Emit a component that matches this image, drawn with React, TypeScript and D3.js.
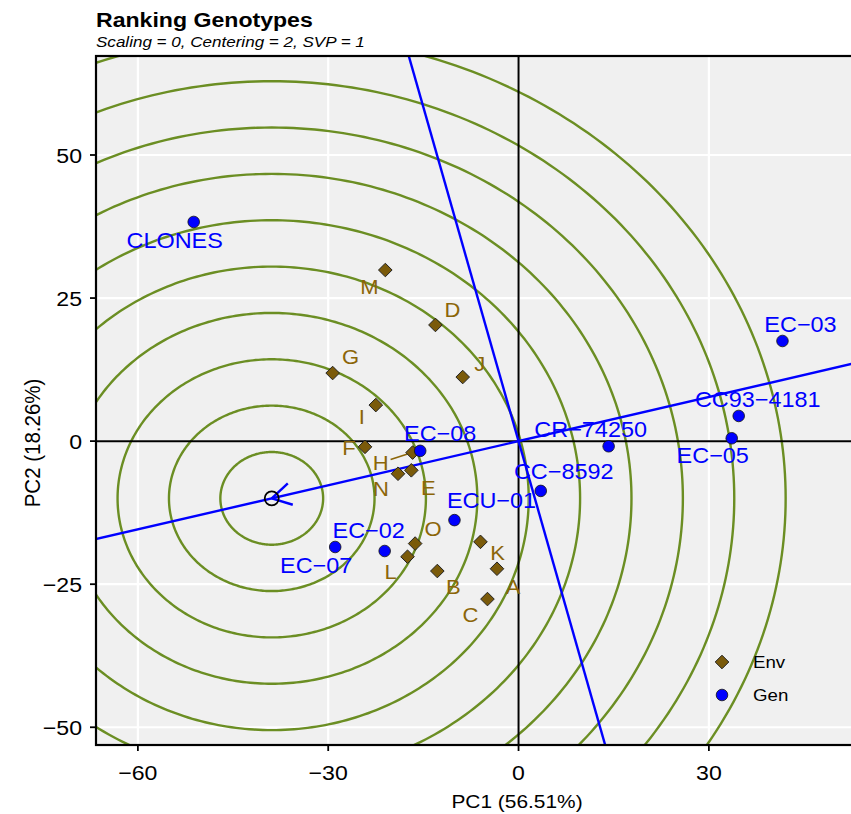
import React from "react";
import * as d3 from "d3";

const W = 851;
const H = 814;
const panel = { left: 96, right: 851, top: 56, bottom: 745 };

const xTicks = [-60, -30, 0, 30];
const yTicks = [-50, -25, 0, 25, 50];

// Genotype scores
const genNames = ["CLONES", "EC−03", "CC93−4181", "EC−05", "CR−74250", "CC−8592", "ECU−01", "EC−08", "EC−02", "EC−07"];
const genPC1 = [-51.2, 41.6, 34.7, 33.6, 14.2, 3.5, -10.1, -15.5, -21.1, -28.9];
const genPC2 = [38.3, 17.5, 4.4, 0.5, -0.9, -8.7, -13.8, -1.7, -19.2, -18.5];

// Environment scores
const envNames = ["M", "D", "J", "G", "I", "F", "H", "N", "E", "O", "L", "B", "K", "A", "C"];
const envPC1 = [-21.0, -13.1, -8.8, -29.3, -22.5, -24.2, -16.7, -19.0, -16.9, -16.3, -17.5, -12.8, -6.0, -3.4, -4.9];
const envPC2 = [29.9, 20.3, 11.2, 11.9, 6.3, -1.0, -2.0, -5.7, -5.1, -17.9, -20.2, -22.7, -17.6, -22.3, -27.6];

// Ideal genotype on the average-environment axis, and the concentric ring spacing
const idealPC1 = -38.9;
const idealPC2 = -10.0;
const ringStep = 8.1;
const ringCount = 10;

// Repelled label offsets (px) from each mark
const genLabelOffset: [number, number][] = [
  [-19, 18], [18, -17], [19, -17], [-19, 17], [-18, -17],
  [23, -20], [37, -20], [20, -18], [-16, -21], [-19, 18],
];
const envLabelOffset: [number, number][] = [
  [-16, 17], [17, -15], [17, -13], [18, -16], [-14, 12],
  [-16, 1], [-32, 10], [-17, 15], [17, 17], [18, -15],
  [-17, 15], [16, 16], [17, 11], [16, 18], [-17, 16],
];

const SX = 1.1;
const FONT = "'Liberation Sans', Arial, Helvetica, sans-serif";
const GEN_COL = "#0000FF";
const ENV_TEXT = "#8B6508";
const ENV_FILL = "#7A5A0A";
const RING_COL = "#6B8E23";

type LabelProps = {
  x: number;
  y: number;
  size: number;
  anchor?: "start" | "middle" | "end";
  fill?: string;
  weight?: string;
  italic?: boolean;
  rotate?: number;
  dy?: string;
  children: React.ReactNode;
};

function Label({ x, y, size, anchor = "start", fill = "#000", weight, italic, rotate, dy, children }: LabelProps) {
  const t = `translate(${x},${y}) scale(${SX},1)` + (rotate ? ` rotate(${rotate})` : "");
  return (
    <text
      transform={t}
      fontSize={size}
      textAnchor={anchor}
      fill={fill}
      fontWeight={weight}
      fontStyle={italic ? "italic" : undefined}
      fontFamily={FONT}
      dy={dy}
    >
      {children}
    </text>
  );
}

export default function App() {
  const x = d3.scaleLinear().domain([-66.6, 52.4]).range([panel.left, panel.right]);
  const y = d3.scaleLinear().domain([-53.1, 67.3]).range([panel.bottom, panel.top]);

  const line = d3
    .line<[number, number]>()
    .x((d) => x(d[0]))
    .y((d) => y(d[1]));

  const rings = d3.range(1, ringCount + 1).map((k) => {
    const r = k * ringStep;
    const pts: [number, number][] = d3
      .range(0, 361)
      .map((a) => [idealPC1 + r * Math.cos((a * Math.PI) / 180), idealPC2 + r * Math.sin((a * Math.PI) / 180)]);
    return line(pts) as string;
  });

  const aea = line([
    [-5 * idealPC1, -5 * idealPC2],
    [5 * idealPC1, 5 * idealPC2],
  ]) as string;
  const perp = line([
    [-5 * -idealPC2, -5 * idealPC1],
    [5 * -idealPC2, 5 * idealPC1],
  ]) as string;

  // Arrow head at the ideal point, pointing away from the origin
  const tipX = x(idealPC1);
  const tipY = y(idealPC2);
  const backAng = Math.atan2(y(0) - tipY, x(0) - tipX);
  const headLen = 22;
  const headA = (30 * Math.PI) / 180;
  const head1: [number, number] = [tipX + headLen * Math.cos(backAng - headA), tipY + headLen * Math.sin(backAng - headA)];
  const head2: [number, number] = [tipX + headLen * Math.cos(backAng + headA), tipY + headLen * Math.sin(backAng + headA)];

  const diamond = (cx: number, cy: number, s: number) =>
    `M${cx},${cy - s}L${cx + s},${cy}L${cx},${cy + s}L${cx - s},${cy}Z`;

  const hIndex = envNames.indexOf("H");
  const hPx = x(envPC1[hIndex]);
  const hPy = y(envPC2[hIndex]);
  const hLx = hPx + envLabelOffset[hIndex][0];
  const hLy = hPy + envLabelOffset[hIndex][1];

  return (
    <svg width={W} height={H} style={{ position: "absolute", left: 0, top: 0, background: "#fff" }}>
      <defs>
        <clipPath id="panel-clip">
          <rect x={panel.left} y={panel.top} width={panel.right - panel.left} height={panel.bottom - panel.top} />
        </clipPath>
      </defs>

      <Label x={96} y={27} size={21} weight="bold">Ranking Genotypes</Label>
      <Label x={96} y={47} size={15.5} italic>Scaling = 0, Centering = 2, SVP = 1</Label>

      <rect x={panel.left} y={panel.top} width={panel.right - panel.left} height={panel.bottom - panel.top} fill="#F0F0F0" />

      {xTicks.map((t) => (
        <line key={"gx" + t} x1={x(t)} x2={x(t)} y1={panel.top} y2={panel.bottom} stroke="#fff" strokeWidth={2.2} />
      ))}
      {yTicks.map((t) => (
        <line key={"gy" + t} x1={panel.left} x2={panel.right} y1={y(t)} y2={y(t)} stroke="#fff" strokeWidth={2.2} />
      ))}

      <g clipPath="url(#panel-clip)">
        {rings.map((d, i) => (
          <path key={"ring" + i} d={d} fill="none" stroke={RING_COL} strokeWidth={2.4} />
        ))}
        <line x1={x(0)} x2={x(0)} y1={panel.top} y2={panel.bottom} stroke="#000" strokeWidth={2} />
        <line x1={panel.left} x2={panel.right} y1={y(0)} y2={y(0)} stroke="#000" strokeWidth={2} />
        <path d={aea} stroke={GEN_COL} strokeWidth={2.4} fill="none" />
        <path d={perp} stroke={GEN_COL} strokeWidth={2.4} fill="none" />
        <line x1={tipX} y1={tipY} x2={head1[0]} y2={head1[1]} stroke={GEN_COL} strokeWidth={2.4} />
        <line x1={tipX} y1={tipY} x2={head2[0]} y2={head2[1]} stroke={GEN_COL} strokeWidth={2.4} />
        <circle cx={tipX} cy={tipY} r={7} fill="none" stroke="#000" strokeWidth={1.8} />

        <line
          x1={hLx + 10}
          y1={hLy - 3}
          x2={hPx - 5}
          y2={hPy + 1.5}
          stroke={ENV_TEXT}
          strokeWidth={1.6}
        />

        {envNames.map((n, i) => (
          <path
            key={"env" + n}
            d={diamond(x(envPC1[i]), y(envPC2[i]), 6.8)}
            fill={ENV_FILL}
            stroke="#222"
            strokeWidth={1}
          />
        ))}
        {genNames.map((n, i) => (
          <circle key={"gen" + n} cx={x(genPC1[i])} cy={y(genPC2[i])} r={5.8} fill={GEN_COL} stroke="#111" strokeWidth={0.8} />
        ))}

        {envNames.map((n, i) => (
          <Label
            key={"envl" + n}
            x={x(envPC1[i]) + envLabelOffset[i][0]}
            y={y(envPC2[i]) + envLabelOffset[i][1]}
            size={20}
            anchor="middle"
            dy="0.36em"
            fill={ENV_TEXT}
          >
            {n}
          </Label>
        ))}
        {genNames.map((n, i) => (
          <Label
            key={"genl" + n}
            x={x(genPC1[i]) + genLabelOffset[i][0]}
            y={y(genPC2[i]) + genLabelOffset[i][1]}
            size={21.3}
            anchor="middle"
            dy="0.36em"
            fill={GEN_COL}
          >
            {n}
          </Label>
        ))}

        {/* legend */}
        <path d={diamond(722, 662, 6.8)} fill={ENV_FILL} stroke="#222" strokeWidth={1} />
        <circle cx={722} cy={695} r={5.8} fill={GEN_COL} stroke="#111" strokeWidth={0.8} />
        <Label x={753} y={662} size={17} dy="0.36em">Env</Label>
        <Label x={753} y={695} size={17} dy="0.36em">Gen</Label>
      </g>

      {/* panel border */}
      <rect
        x={panel.left}
        y={panel.top}
        width={panel.right - panel.left + 4}
        height={panel.bottom - panel.top}
        fill="none"
        stroke="#000"
        strokeWidth={2.2}
      />

      {xTicks.map((t) => (
        <g key={"xt" + t}>
          <line x1={x(t)} x2={x(t)} y1={panel.bottom} y2={panel.bottom + 6} stroke="#000" strokeWidth={1.8} />
          <Label x={x(t)} y={780} size={21} anchor="middle">
            {t < 0 ? "−" + Math.abs(t) : String(t)}
          </Label>
        </g>
      ))}
      {yTicks.map((t) => (
        <g key={"yt" + t}>
          <line x1={panel.left - 6} x2={panel.left} y1={y(t)} y2={y(t)} stroke="#000" strokeWidth={1.8} />
          <Label x={82} y={y(t)} size={21} anchor="end" dy="0.36em">
            {t < 0 ? "−" + Math.abs(t) : String(t)}
          </Label>
        </g>
      ))}

      <Label x={517} y={808} size={19} anchor="middle">PC1 (56.51%)</Label>
      <Label x={40} y={443} size={20.5} anchor="middle" rotate={-90}>PC2 (18.26%)</Label>
    </svg>
  );
}
